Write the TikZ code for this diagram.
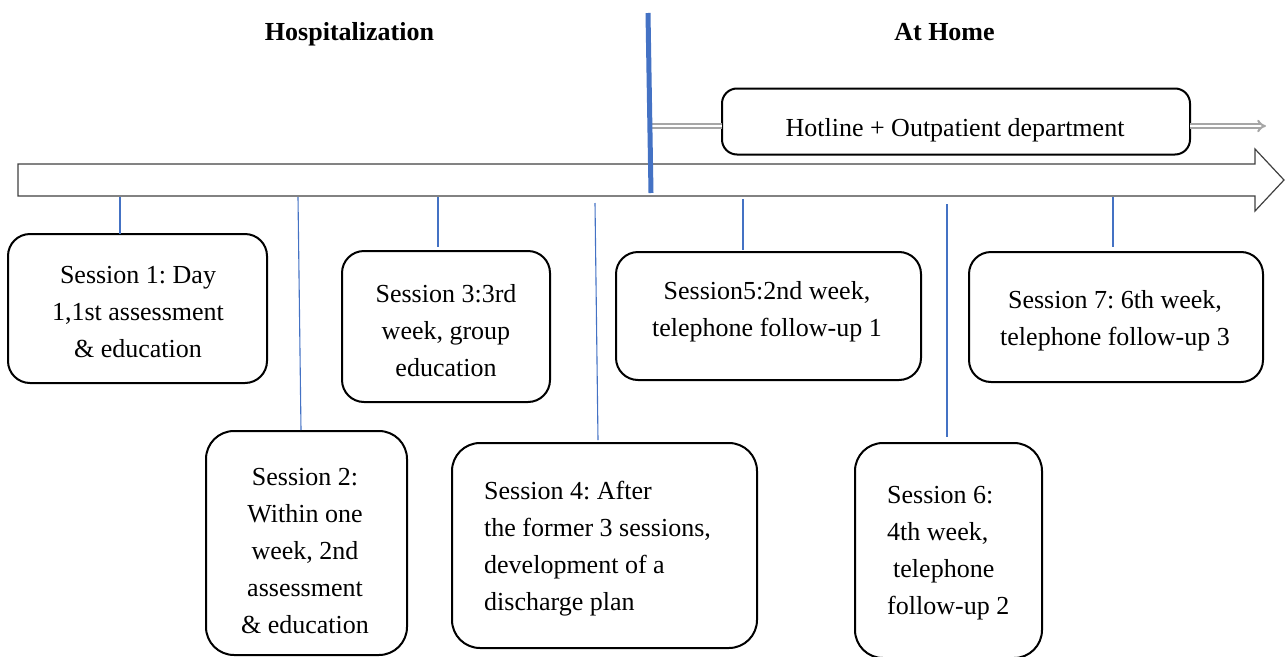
\documentclass[tikz,border=0pt]{standalone}
\usepackage{fontspec}
\setmainfont{Liberation Serif}
\usetikzlibrary{arrows.meta,calc}
\definecolor{lineblue}{HTML}{4472C4}
\definecolor{greyarr}{HTML}{A6A6A6}
\definecolor{arrline}{HTML}{404040}
\frenchspacing
\begin{document}
\begin{tikzpicture}[x=1pt,y=-1pt,
  sbox/.style={draw=black, line width=2pt, inner sep=0pt, outer sep=0pt},
  stext/.style={font=\fontsize{26}{37}\selectfont\frenchspacing, inner sep=0pt},
  conn/.style={draw=lineblue, line width=1.1pt},
  hdr/.style={font=\fontsize{26}{30}\selectfont\bfseries, inner sep=0pt, anchor=base},
  dblarrow/.style={draw=greyarr, double=white, double distance=2pt, line width=2pt}]
\useasboundingbox (0,0) rectangle (1285,656);

% headers
\node[hdr] (hhosp) at (349.5,40) {Hospitalization};
\node[hdr] (hhome) at (944.5,40) {At Home};

% main timeline arrow
\draw[draw=arrline, line width=1.2pt, fill=white, line join=miter]
  (18,164) -- (1255,164) -- (1255,149) -- (1284,180) -- (1255,211) -- (1255,196) -- (18,196) -- cycle;

% hotline box and grey double arrows
\node[sbox, rounded corners=15pt, minimum width=468pt, minimum height=66pt] (hot) at (956,121.5) {};
\node[stext] (thot) at (955,130) {Hotline + Outpatient department};
\coordinate (g1) at (652,126);
\coordinate (g2) at (1266,126);
\draw[dblarrow] (g1) -- (g1 -| hot.west);
\draw[dblarrow, -{Implies}] (hot.east |- g1) -- (g2);

% divider
\coordinate (d1) at (648,13);
\coordinate (d2) at (651,193);
\draw[draw=lineblue, line width=5pt] (d1) -- (d2);

% session boxes
\node[sbox, rounded corners=22pt, minimum width=259pt, minimum height=149pt] (b1) at (137.5,308.5) {};
\node[sbox, rounded corners=28pt, minimum width=201pt, minimum height=224pt] (b2) at (306.5,543) {};
\node[sbox, rounded corners=22pt, minimum width=208pt, minimum height=151pt] (b3) at (446,326.5) {};
\node[sbox, rounded corners=28pt, minimum width=305pt, minimum height=205pt] (b4) at (604.5,545.5) {};
\node[sbox, rounded corners=22pt, minimum width=305pt, minimum height=128pt] (b5) at (768.5,316) {};
\node[sbox, rounded corners=28pt, minimum width=187pt, minimum height=215pt] (b6) at (948.5,550.5) {};
\node[sbox, rounded corners=22pt, minimum width=294pt, minimum height=130pt] (b7) at (1116,317) {};

% texts
\node[stext, align=center] (t1) at (138,312) {Session 1: Day\\1,1st assessment\\\& education};
\node[stext, align=center] (t2) at (305,551) {Session 2:\\Within one\\week, 2nd\\assessment\\\& education};
\node[stext, align=center] (t3) at (446,331) {Session 3:3rd\\week, group\\education};
\node[stext, align=left, anchor=west] (t4) at (484,549) {Session 4: After\\the former 3 sessions,\\development of a\\discharge plan};
\node[stext, align=center] (t5) at (767,312) {Session5:2nd week,\\telephone follow-up 1};
\node[stext, align=left, anchor=west] (t6) at (887,553) {Session 6:\\4th week,\\\hspace*{6pt}telephone\\follow-up 2};
\node[stext, align=center] (t7) at (1115,321) {Session 7: 6th week,\\telephone follow-up 3};

% connectors
\coordinate (c1) at (120,197);
\coordinate (c2) at (298,197);
\coordinate (c3) at (438,197);
\coordinate (c4) at (595,203);
\coordinate (c5) at (743,199);
\coordinate (c6) at (947,204);
\coordinate (c7) at (1113,197);
\draw[conn] (c1) -- (c1 |- b1.north);
\draw[conn] (c2) -- ($(b2.north)+(-5.5,-1)$);
\draw[conn] (c3) -- ($(c3 |- b3.north)+(0,-4)$);
\draw[conn] (c4) -- ($(b4.north)+(-6.5,-3)$);
\draw[conn] (c5) -- ($(c5 |- b5.north)+(0,-2)$);
\draw[conn] (c6) -- ($(c6 |- b6.north)+(0,-6)$);
\draw[conn] (c7) -- ($(c7 |- b7.north)+(0,-5)$);
\end{tikzpicture}
\end{document}
